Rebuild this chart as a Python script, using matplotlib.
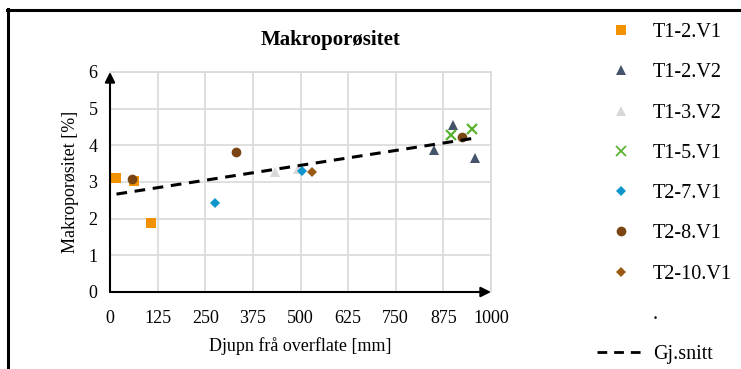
import numpy as np
import matplotlib
matplotlib.use('Agg')
import matplotlib.pyplot as plt
from matplotlib.lines import Line2D

plt.rcParams['font.family'] = ['Liberation Serif', 'DejaVu Serif']

# depth [mm] and macroporosity [%] per sample series
t12v1_x = [17, 63, 107]
t12v1_y = [3.10, 3.03, 1.89]
t12v2_x = [850, 899, 957]
t12v2_y = [3.87, 4.56, 3.65]
t13v2_x = [434, 493]
t13v2_y = [3.27, 3.36]
t15v1_x = [896, 951]
t15v1_y = [4.27, 4.44]
t27v1_x = [275, 504]
t27v1_y = [2.42, 3.30]
t28v1_x = [59, 330, 925]
t28v1_y = [3.08, 3.81, 4.23]
t210v1_x = [531]
t210v1_y = [3.26]

# trend line (Gj.snitt)
trend_x = [17, 953]
trend_y = [2.67, 4.19]

xticks = [0, 125, 250, 375, 500, 625, 750, 875, 1000]
yticks = [0, 1, 2, 3, 4, 5, 6]

fig = plt.figure(figsize=(7.41, 3.69), dpi=100)
ax = fig.add_axes([110/741, 1-292/369, 381/741, 220/369])

series = [
    (t12v1_x, t12v1_y, 's', '#F39200', 6.5, 'T1-2.V1'),
    (t12v2_x, t12v2_y, '^', '#44546A', 7, 'T1-2.V2'),
    (t13v2_x, t13v2_y, '^', '#D9D9D9', 7, 'T1-3.V2'),
    (t15v1_x, t15v1_y, 'x', '#5CB232', 6.5, 'T1-5.V1'),
    (t27v1_x, t27v1_y, 'D', '#0E95CB', 5.5, 'T2-7.V1'),
    (t28v1_x, t28v1_y, 'o', '#7A4512', 7, 'T2-8.V1'),
    (t210v1_x, t210v1_y, 'D', '#9A5A14', 5.5, 'T2-10.V1'),
]
handles = []
for xs, ys, m, c, ms, lab in series:
    ax.plot(xs, ys, ls='none', marker=m, color=c, markersize=ms,
            markeredgewidth=1.6 if m == 'x' else 0, zorder=3)
    handles.append(Line2D([], [], ls='none', marker=m, color=c,
                          markersize=ms,
                          markeredgewidth=1.3 if m == 'x' else 0, label=lab))

ax.plot(trend_x, trend_y, color='black', ls=(0, (3.5, 2.5)), lw=2.2, zorder=4)
handles.append(Line2D([], [], ls='none', label='.'))
handles.append(Line2D([], [], color='black', ls=(0, (3.5, 2.5)), lw=2.0, label='Gj.snitt'))

ax.set_xlim(0, 1000)
ax.set_ylim(0, 6)
ax.set_xticks(xticks)
ax.set_yticks(yticks)
ax.grid(True, color='#D9D9D9', lw=1.2)
ax.set_axisbelow(True)
ax.tick_params(length=0, labelsize=13)
ax.tick_params(axis='x', pad=13)
ax.tick_params(axis='y', pad=9)
for s in ['top', 'right']:
    ax.spines[s].set_color('#D9D9D9')
    ax.spines[s].set_linewidth(1.2)
for s in ['left', 'bottom']:
    ax.spines[s].set_visible(False)

# axis lines with arrow heads
ax.annotate('', xy=(0, 1), xytext=(0, 0), xycoords='axes fraction',
            arrowprops=dict(arrowstyle='-|>,head_length=0.6,head_width=0.3',
                            color='black', lw=1.5, shrinkA=0, shrinkB=0), zorder=5)
ax.annotate('', xy=(1, 0), xytext=(0, 0), xycoords='axes fraction',
            arrowprops=dict(arrowstyle='-|>,head_length=0.6,head_width=0.3',
                            color='black', lw=1.5, shrinkA=0, shrinkB=0), zorder=5)

ax.set_xlabel('Djupn frå overflate [mm]', fontsize=13)
ax.set_ylabel('Makroporøsitet [%]', fontsize=13)
ax.xaxis.set_label_coords(0.5, -0.205)
ax.yaxis.set_label_coords(-0.081, 0.5)

fig.text(331/741, 1-40/369, 'Makroporøsitet', fontsize=15, fontweight='bold',
         ha='center', va='center')

fig.legend(handles=handles, loc='upper left', bbox_to_anchor=(597/741, 1-23/369),
           frameon=False, fontsize=14.5, handlelength=2.35, handletextpad=0.42,
           labelspacing=1.05, borderpad=0, borderaxespad=0)

# chart border
fig.add_artist(Line2D([7.5/741, 7.5/741], [0, 1-9/369], color='black', lw=2.2,
                      transform=fig.transFigure))
fig.add_artist(Line2D([6.5/741, 1], [1-10/369, 1-10/369], color='black', lw=2.2,
                      transform=fig.transFigure))

fig.savefig('out.png', dpi=100)
